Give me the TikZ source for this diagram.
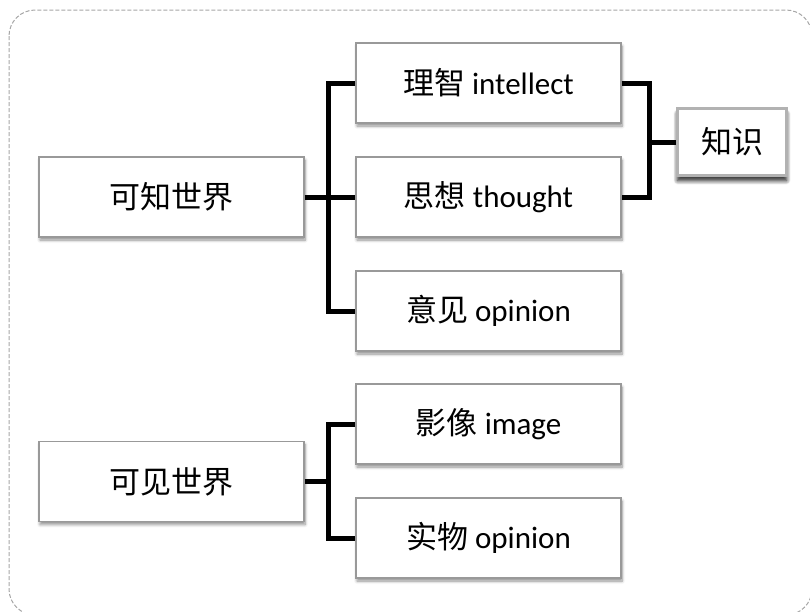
\documentclass[tikz,border=0pt]{standalone}
\usepackage{fontspec}
\setmainfont{Carlito}
\newfontfamily\cjk{Noto Sans CJK SC}
\usetikzlibrary{shadows,shadows.blur}
\begin{document}
\begin{tikzpicture}[x=1pt,y=-1pt,
  box/.style={draw=black!40, line width=1.2pt, fill=white,
    minimum width=265pt, minimum height=80pt, inner sep=0pt,
    font=\fontsize{31}{36}\selectfont,
    blur shadow={shadow xshift=1pt, shadow yshift=-3pt, shadow blur radius=3pt, shadow blur steps=6, shadow opacity=45}},
  kbox/.style={box, draw=black!30, line width=3pt, minimum width=109pt, minimum height=67pt,
    blur shadow={shadow xshift=0pt, shadow yshift=-5pt, shadow blur radius=4pt, shadow blur steps=6, shadow opacity=55}},
  link/.style={line width=5pt, line join=miter},
  frame/.style={draw=black!35, line width=1pt, dash pattern=on 4pt off 2pt, rounded corners=26pt}]
\useasboundingbox (0,0) rectangle (810,611);
\clip (0,0) rectangle (810,611);
\draw[frame] (9,10) rectangle (812,615);

\node[box] (kz) at (171.5,197) {\cjk 可知世界};
\node[box] (lz) at (488.5,83) {{\cjk 理智} intellect};
\node[box] (sx) at (488.5,197) {{\cjk 思想} thought};
\node[box] (yj) at (488.5,311) {{\cjk 意见} opinion};
\node[kbox] (zs) at (732,142) {\cjk 知识};

\node[box] (kj) at (171.5,481.5) {\cjk 可见世界};
\node[box] (yx) at (488.5,424) {{\cjk 影像} image};
\node[box] (sw) at (488.5,538) {{\cjk 实物} opinion};

\draw[link] (lz.west) -- ++(-27,0) |- (yj.west);
\draw[link] (kz.east) -- (sx.west);
\draw[link] (lz.east) -- ++(28,0) |- (sx.east);
\draw[link] (zs.west) -- ++(-28.5,0);

\draw[link] (yx.west) -- ++(-27,0) |- (sw.west);
\draw[link] (kj.east) -- ++(25,0);
\end{tikzpicture}
\end{document}
